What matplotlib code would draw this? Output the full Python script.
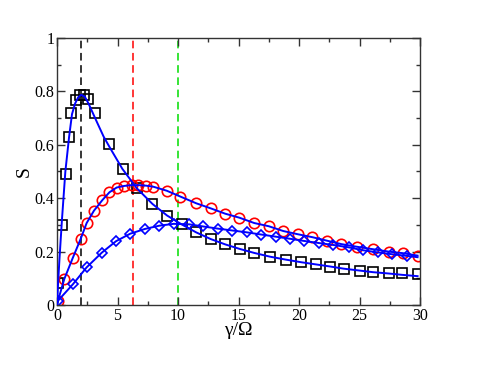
import numpy as np
import matplotlib
matplotlib.use("Agg")
import matplotlib.pyplot as plt
from matplotlib.ticker import MultipleLocator

plt.rcParams["font.family"] = ["Liberation Serif", "DejaVu Serif"]

# black squares
sq_x = [0.05, 0.41, 0.72, 1.0, 1.16, 1.57, 1.9, 2.2, 2.53, 3.17, 4.3, 5.45, 6.6,
        7.88, 9.1, 10.3, 11.5, 12.7, 13.9, 15.1, 16.3, 17.6, 18.9, 20.2, 21.4,
        22.6, 23.7, 25.0, 26.1, 27.4, 28.5, 29.8]
sq_y = [0.084, 0.30, 0.49, 0.63, 0.72, 0.768, 0.787, 0.787, 0.77, 0.72, 0.603,
        0.51, 0.437, 0.378, 0.335, 0.303, 0.272, 0.246, 0.227, 0.21, 0.196,
        0.181, 0.169, 0.161, 0.155, 0.143, 0.134, 0.128, 0.125, 0.121, 0.118,
        0.115]

# red circles
ci_x = [0.08, 0.6, 1.3, 1.95, 2.45, 3.05, 3.75, 4.33, 4.93, 5.56, 6.17, 6.72,
        7.36, 7.96, 9.07, 10.2, 11.5, 12.7, 13.9, 15.07, 16.3, 17.5, 18.7,
        19.9, 21.1, 22.3, 23.5, 24.8, 26.1, 27.4, 28.6, 29.8]
ci_y = [0.016, 0.097, 0.176, 0.247, 0.307, 0.353, 0.393, 0.422, 0.44, 0.446,
        0.449, 0.449, 0.447, 0.443, 0.428, 0.406, 0.381, 0.362, 0.342, 0.327,
        0.307, 0.295, 0.277, 0.265, 0.254, 0.241, 0.228, 0.218, 0.209, 0.2,
        0.194, 0.185]

# blue diamonds
di_x = [0.08, 1.32, 2.45, 3.7, 4.88, 6.05, 7.28, 8.45, 9.65, 10.95, 12.1, 13.3,
        14.5, 15.7, 16.86, 18.07, 19.26, 20.4, 21.65, 22.8, 24.1, 25.3, 26.5,
        27.7, 28.9]
di_y = [0.016, 0.078, 0.141, 0.196, 0.239, 0.267, 0.285, 0.297, 0.304, 0.302,
        0.294, 0.286, 0.279, 0.272, 0.264, 0.256, 0.248, 0.24, 0.232, 0.225,
        0.216, 0.205, 0.197, 0.19, 0.184]

# blue theory curves
c1_x = [0, 0.1, 0.2, 0.41, 0.69, 1.0, 1.24, 1.5, 1.75, 2.0, 2.3, 2.6, 3.0, 3.3,
        3.86, 4.4, 5.4, 6.6, 7.9, 9.1, 10.3, 11.5, 12.7, 13.9, 15.1, 16.3,
        17.6, 18.9, 20.2, 21.4, 22.6, 23.7, 25.0, 26.1, 27.4, 28.5, 29.8]
c1_y = [0, 0.09, 0.17, 0.32, 0.5, 0.63, 0.715, 0.755, 0.778, 0.787, 0.78,
        0.755, 0.715, 0.685, 0.63, 0.587, 0.51, 0.437, 0.378, 0.335, 0.302,
        0.272, 0.247, 0.227, 0.21, 0.195, 0.181, 0.17, 0.16, 0.152, 0.144,
        0.136, 0.129, 0.123, 0.118, 0.113, 0.108]
c2_x = [0] + ci_x
c2_y = [0] + ci_y
c3_x = [0] + di_x + [29.8]
c3_y = [0] + di_y + [0.179]

vlines = [(2.0, "black"), (2 * np.pi, "#ff0000"), (10.0, "#00dd00")]

fig = plt.figure(figsize=(4.94, 3.82), dpi=100)
ax = fig.add_axes([0.1154, 0.2016, 0.7348, 0.6989])

for xv, col in vlines:
    ax.axvline(xv, color=col, lw=1.1, ls=(0, (5, 3)), zorder=1)

ax.plot(sq_x, sq_y, ls="none", marker="s", ms=7, mfc="none", mec="black",
        mew=1.2, zorder=2)
ax.plot(ci_x, ci_y, ls="none", marker="o", ms=7.5, mfc="none", mec="#ff0000",
        mew=1.2, zorder=2)
ax.plot(di_x, di_y, ls="none", marker="D", ms=5.0, mfc="none", mec="#0000ff",
        mew=1.2, zorder=2)

for cx, cy in [(c1_x, c1_y), (c2_x, c2_y), (c3_x, c3_y)]:
    ax.plot(cx, cy, color="#0000ff", lw=1.4, zorder=3)

ax.set_xlim(0, 30)
ax.set_ylim(0, 1)
ax.xaxis.set_major_locator(MultipleLocator(5))
ax.xaxis.set_minor_locator(MultipleLocator(2.5))
ax.yaxis.set_minor_locator(MultipleLocator(0.1))
ax.set_yticks([0, 0.2, 0.4, 0.6, 0.8, 1.0])
ax.set_yticklabels(["0", "0.2", "0.4", "0.6", "0.8", "1"])
ax.tick_params(which="both", direction="in", top=True, right=True,
               labelsize=11.5, color="#333333")
ax.tick_params(which="major", length=6, width=1, pad=2)
ax.tick_params(which="minor", length=3, width=1)
for s in ax.spines.values():
    s.set_color("#333333")
    s.set_linewidth(1.0)

ax.set_xlabel("γ/Ω", fontsize=14, labelpad=-1)
ax.set_ylabel("S", fontsize=14, labelpad=1)

fig.savefig("out.png", dpi=100)
